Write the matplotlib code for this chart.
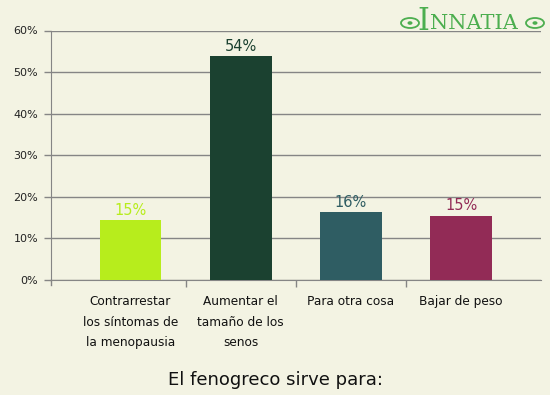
import matplotlib.pyplot as plt
import matplotlib.ticker as mticker
from matplotlib.patches import Ellipse, Circle

categorias = ["Contrarrestar\nlos síntomas de\nla menopausia",
              "Aumentar el\ntamaño de los\nsenos",
              "Para otra cosa",
              "Bajar de peso"]
valores = [14.4, 53.8, 16.3, 15.4]
etiquetas = ["15%", "54%", "16%", "15%"]
colores = ["#b7ed1c", "#1b4130", "#2f5d63", "#922b56"]

FONDO = "#f3f3e3"
GRIS = "#858585"
VERDE_LOGO = "#4cae4f"

fig = plt.figure(figsize=(5.5, 3.95), dpi=100, facecolor=FONDO)
ax = fig.add_axes([50.5 / 550, 115 / 395, 490.5 / 550, 249.5 / 395], facecolor=FONDO)

x = range(len(valores))
ax.bar(x, valores, width=0.56, color=colores, zorder=3)

for i, (v, txt) in enumerate(zip(valores, etiquetas)):
    ax.text(i, v + 0.6, txt, ha="center", va="bottom", fontsize=10.5, color=colores[i], zorder=4)

ax.set_xlim(-0.725, 3.725)
ax.set_ylim(0, 60)
ax.set_yticks(range(0, 61, 10))
ax.yaxis.set_major_formatter(mticker.FuncFormatter(lambda v, p: f"{v:.0f}%"))
ax.yaxis.grid(True, color=GRIS, linewidth=1.0, zorder=0)

ax.set_xticks(list(x))
ax.set_xticklabels(categorias, fontsize=8.7, linespacing=1.75, color="#111111")
ax.tick_params(axis="x", length=0, pad=11)
ax.set_xticks([0.5, 1.5, 2.5], minor=True)
ax.tick_params(axis="x", which="minor", length=5, color=GRIS, width=1)
ax.tick_params(axis="y", length=5, color=GRIS, width=1, labelsize=8, labelcolor="#222222", pad=4)

for s in ["top", "right"]:
    ax.spines[s].set_visible(False)
ax.spines["left"].set_color(GRIS)
ax.spines["bottom"].set_color(GRIS)
# eje vertical baja un poco por debajo del 0%
ax.plot([0, 0], [0, -5 / 249.5], transform=ax.transAxes, color=GRIS, lw=1, clip_on=False)

fig.text(0.5, 15 / 395, "El fenogreco sirve para:", ha="center", va="center", fontsize=13, color="#111111")

# logo
fig.text(423 / 550, 389 / 395, "I", ha="center", va="top", fontsize=22, family="DejaVu Serif", color=VERDE_LOGO)
fig.text(430 / 550, 381 / 395, "NNATIA", ha="left", va="top", fontsize=15, family="DejaVu Serif", color=VERDE_LOGO)
for cx in [410, 535]:
    fig.patches.append(Ellipse((cx / 550, 372 / 395), 18 / 550, 10 / 395, transform=fig.transFigure,
                               fill=False, edgecolor=VERDE_LOGO, lw=1.3))
    fig.patches.append(Circle((cx / 550, 372 / 395), 2.5 / 550, transform=fig.transFigure,
                              facecolor=VERDE_LOGO, edgecolor="none"))

fig.savefig("out.png", dpi=100, facecolor=FONDO)
